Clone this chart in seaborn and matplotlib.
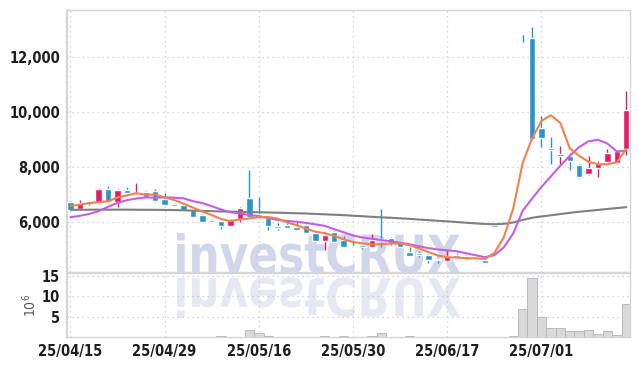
import numpy as np
import pandas as pd
import seaborn as sns
import matplotlib.pyplot as plt
from matplotlib.textpath import TextPath
from matplotlib.patches import PathPatch
from matplotlib.font_manager import FontProperties
from matplotlib.transforms import Affine2D, IdentityTransform
from matplotlib.ticker import FuncFormatter, FixedLocator

# daily candles (trading days)
opens = [6738, 6495, 6764, 6702, 7211, 6727, 7174, 7054, 7113, 7149,
         6858, 6665, 6629, 6484, 6265, 6084, 6047, 5876, 6109, 6873,
         6280, 6167, 5865, 5902, 5840, 5902, 5600, 5320, 5636, 5356,
         5149, 5164, 5113, 5382, 5418, 5273, 4931, 4873, 4811, 4676,
         4604, 4800, 4785, 4676, 4629, 5860, 7610, 9890, 12850, 12690,
         9418, 8713, 8422, 8422, 8083, 7767, 7985, 8204, 8145, 8654]
highs = [6760, 6800, 6780, 7247, 7309, 7211, 7273, 7418, 7150, 7211,
         7076, 6690, 6700, 6500, 6280, 6100, 6060, 6100, 6567, 7901,
         6930, 6180, 5960, 5960, 6000, 5920, 5620, 5560, 5680, 5480,
         5270, 5180, 5575, 6473, 5450, 5290, 5113, 4960, 4860, 4690,
         5000, 4895, 4800, 4690, 4720, 5860, 7610, 9890, 12850, 13091,
         9865, 9091, 8763, 8531, 8120, 8411, 8240, 8676, 8600, 10772]
lows = [6430, 6480, 6618, 6676, 6700, 6545, 7040, 7040, 6900, 6740,
        6620, 6590, 6430, 6190, 6010, 6010, 5756, 5860, 6022, 6190,
        6145, 5720, 5730, 5790, 5720, 5590, 5273, 5000, 5280, 5100,
        5080, 5018, 5100, 5113, 5180, 5100, 4770, 4720, 4509, 4520,
        4590, 4740, 4640, 4600, 4500, 5860, 7610, 9890, 12550, 9000,
        8727, 8120, 8120, 7900, 7600, 7709, 7658, 8190, 8109, 8447]
closes = [6458, 6702, 6691, 7211, 6727, 7164, 7065, 7113, 6920, 6764,
          6640, 6604, 6447, 6204, 6022, 6022, 5865, 6084, 6509, 6204,
          6250, 5876, 5804, 5804, 5731, 5600, 5331, 5538, 5295, 5113,
          5091, 5102, 5356, 5331, 5236, 5113, 4785, 4800, 4629, 4618,
          4785, 4749, 4655, 4618, 4509, 5860, 7610, 9890, 12850, 9018,
          9054, 8618, 8494, 8240, 7658, 7985, 8145, 8509, 8593, 10083]

# moving average lines as drawn
ma5 = [6590, 6640, 6690, 6730, 6758, 6899, 6972, 7056, 6998, 7005,
       6900, 6808, 6675, 6532, 6383, 6260, 6112, 6039, 6100, 6137,
       6182, 6185, 6129, 5988, 5893, 5763, 5654, 5601, 5499, 5375,
       5274, 5228, 5191, 5199, 5223, 5228, 5164, 5053, 4913, 4789,
       4723, 4716, 4687, 4685, 4663, 4878, 5450, 6497, 8144, 9046,
       9684, 9886, 9607, 8685, 8413, 8199, 8104, 8107, 8178, 8663]
ma10 = [6180, 6230, 6300, 6400, 6560, 6700, 6800, 6860, 6900, 6890,
        6900, 6890, 6866, 6765, 6694, 6580, 6460, 6357, 6316, 6260,
        6221, 6149, 6084, 6044, 6015, 5973, 5920, 5865, 5744, 5634,
        5519, 5441, 5396, 5349, 5299, 5251, 5196, 5122, 5056, 5006,
        4976, 4940, 4870, 4799, 4726, 4801, 5083, 5592, 6415, 6855,
        7281, 7668, 8052, 8415, 8730, 8942, 8995, 8857, 8570, 8600]
ma60 = [6450, 6450, 6452, 6455, 6455, 6455, 6455, 6452, 6450, 6448,
        6445, 6440, 6432, 6420, 6410, 6400, 6390, 6385, 6375, 6370,
        6360, 6352, 6345, 6335, 6325, 6315, 6300, 6285, 6270, 6255,
        6235, 6215, 6195, 6175, 6160, 6140, 6120, 6095, 6075, 6050,
        6030, 6005, 5980, 5955, 5935, 5925, 5940, 5990, 6080, 6160,
        6210, 6250, 6295, 6340, 6380, 6410, 6445, 6480, 6512, 6545]

# volume in millions
volume = [0, 0, 0, 0, 0, 0, 0, 0, 0, 0,
          0, 0, 0, 0, 0, 0, 0.3, 0, 0, 1.7,
          1.0, 0.3, 0, 0, 0, 0, 0, 0.3, 0, 0.3,
          0, 0, 0.3, 1.2, 0, 0, 0.3, 0, 0, 0,
          0, 0, 0, 0, 0, 0, 0, 0.3, 6.9, 14.5,
          4.9, 2.4, 2.2, 1.5, 1.5, 1.7, 0.8, 1.5, 0.6, 8.1]

tick_pos = [0, 10, 20, 30, 40, 50]
tick_labels = ['25/04/15', '25/04/29', '25/05/16', '25/05/30', '25/06/17', '25/07/01']

sns.set_theme(style='white')
plt.rcParams['font.family'] = ['DejaVu Sans']
plt.rcParams['font.stretch'] = 'condensed'

df = pd.DataFrame({'open': opens, 'high': highs, 'low': lows, 'close': closes,
                   'ma5': ma5, 'ma10': ma10, 'ma60': ma60, 'volume': volume})
df['idx'] = np.arange(len(df))
up = df['close'] > df['open']
BLUE, PINK = '#2b95cb', '#e31c68'
colors = np.where(up, PINK, BLUE)

fig = plt.figure(figsize=(6.39, 3.66), dpi=100)
ax = fig.add_axes([0.105, 0.257, 0.881, 0.716])
axv = fig.add_axes([0.105, 0.078, 0.881, 0.176], sharex=ax)

# watermark with reflection (pixel coords)
fp = FontProperties(family='DejaVu Sans', weight='bold', stretch='normal')
tp = TextPath((0, 0), 'investCRUX', size=50, prop=fp)
ext = tp.get_extents()
sx = 283 / ext.width
sy = 40 / ext.ymax
t1 = Affine2D().translate(-ext.x0, 0).scale(sx, sy).translate(177, 93)
t2 = Affine2D().translate(-ext.x0, 0).scale(sx, -sy).translate(177, 88)
fig.add_artist(PathPatch(t1.transform_path(tp), transform=IdentityTransform(),
                         facecolor='#d2d6ea', edgecolor='none', zorder=-1))
fig.add_artist(PathPatch(t2.transform_path(tp), transform=IdentityTransform(),
                         facecolor='#e6e8f2', edgecolor='none', zorder=-1))

for a in (ax, axv):
    a.set_facecolor('none')
    a.grid(True, ls=(0, (1, 3)), color='#c3c8dc', lw=0.9)
    for s in a.spines.values():
        s.set_color('#d6d6d6')
        s.set_linewidth(1.0)
    a.spines['left'].set_linewidth(1.6)
    a.tick_params(length=0, labelsize=10.5, labelcolor='#1e1e1e', pad=5)

# candles
ax.vlines(df['idx'], df['low'], df['high'], colors=colors, lw=1.0, zorder=3)
body = (df['close'] - df['open']).abs().clip(lower=40)
bottom = np.minimum(df['open'], df['close'])
bottom = np.where((df['close'] - df['open']).abs() < 40, df['open'] - 20, bottom)
ax.bar(df['idx'], body, bottom=bottom, width=0.68, color=colors, zorder=4)

sns.lineplot(data=df, x='idx', y='ma60', ax=ax, color='#7f7f7f', lw=1.5, zorder=5)
sns.lineplot(data=df, x='idx', y='ma10', ax=ax, color='#c65de6', lw=1.5, zorder=5)
sns.lineplot(data=df, x='idx', y='ma5', ax=ax, color='#f0824a', lw=1.5, zorder=5)

ax.set_xlim(-0.35, 59.4)
ax.set_ylim(4190, 13720)
ax.yaxis.set_major_locator(FixedLocator([6000, 8000, 10000, 12000]))
ax.yaxis.set_major_formatter(FuncFormatter(lambda v, p: f'{v:,.0f}'))
ax.set_xticks(tick_pos)
ax.tick_params(axis='x', labelbottom=False)
ax.set_xlabel('')
ax.set_ylabel('')
for lb in ax.get_yticklabels():
    lb.set_fontweight('bold')

# volume
axv.bar(df['idx'], df['volume'], width=1.0, color='#d9d9d9', edgecolor='#b5b5b5', lw=0.6, zorder=3)
axv.set_ylim(0, 15.7)
axv.set_yticks([5, 10, 15])
axv.set_xticks(tick_pos)
axv.set_xticklabels(tick_labels)
axv.set_ylabel('$10^6$', color='#555555', fontsize=10, labelpad=2)
for lb in axv.get_xticklabels() + axv.get_yticklabels():
    lb.set_fontweight('bold')

fig.savefig('out.png', dpi=100)
